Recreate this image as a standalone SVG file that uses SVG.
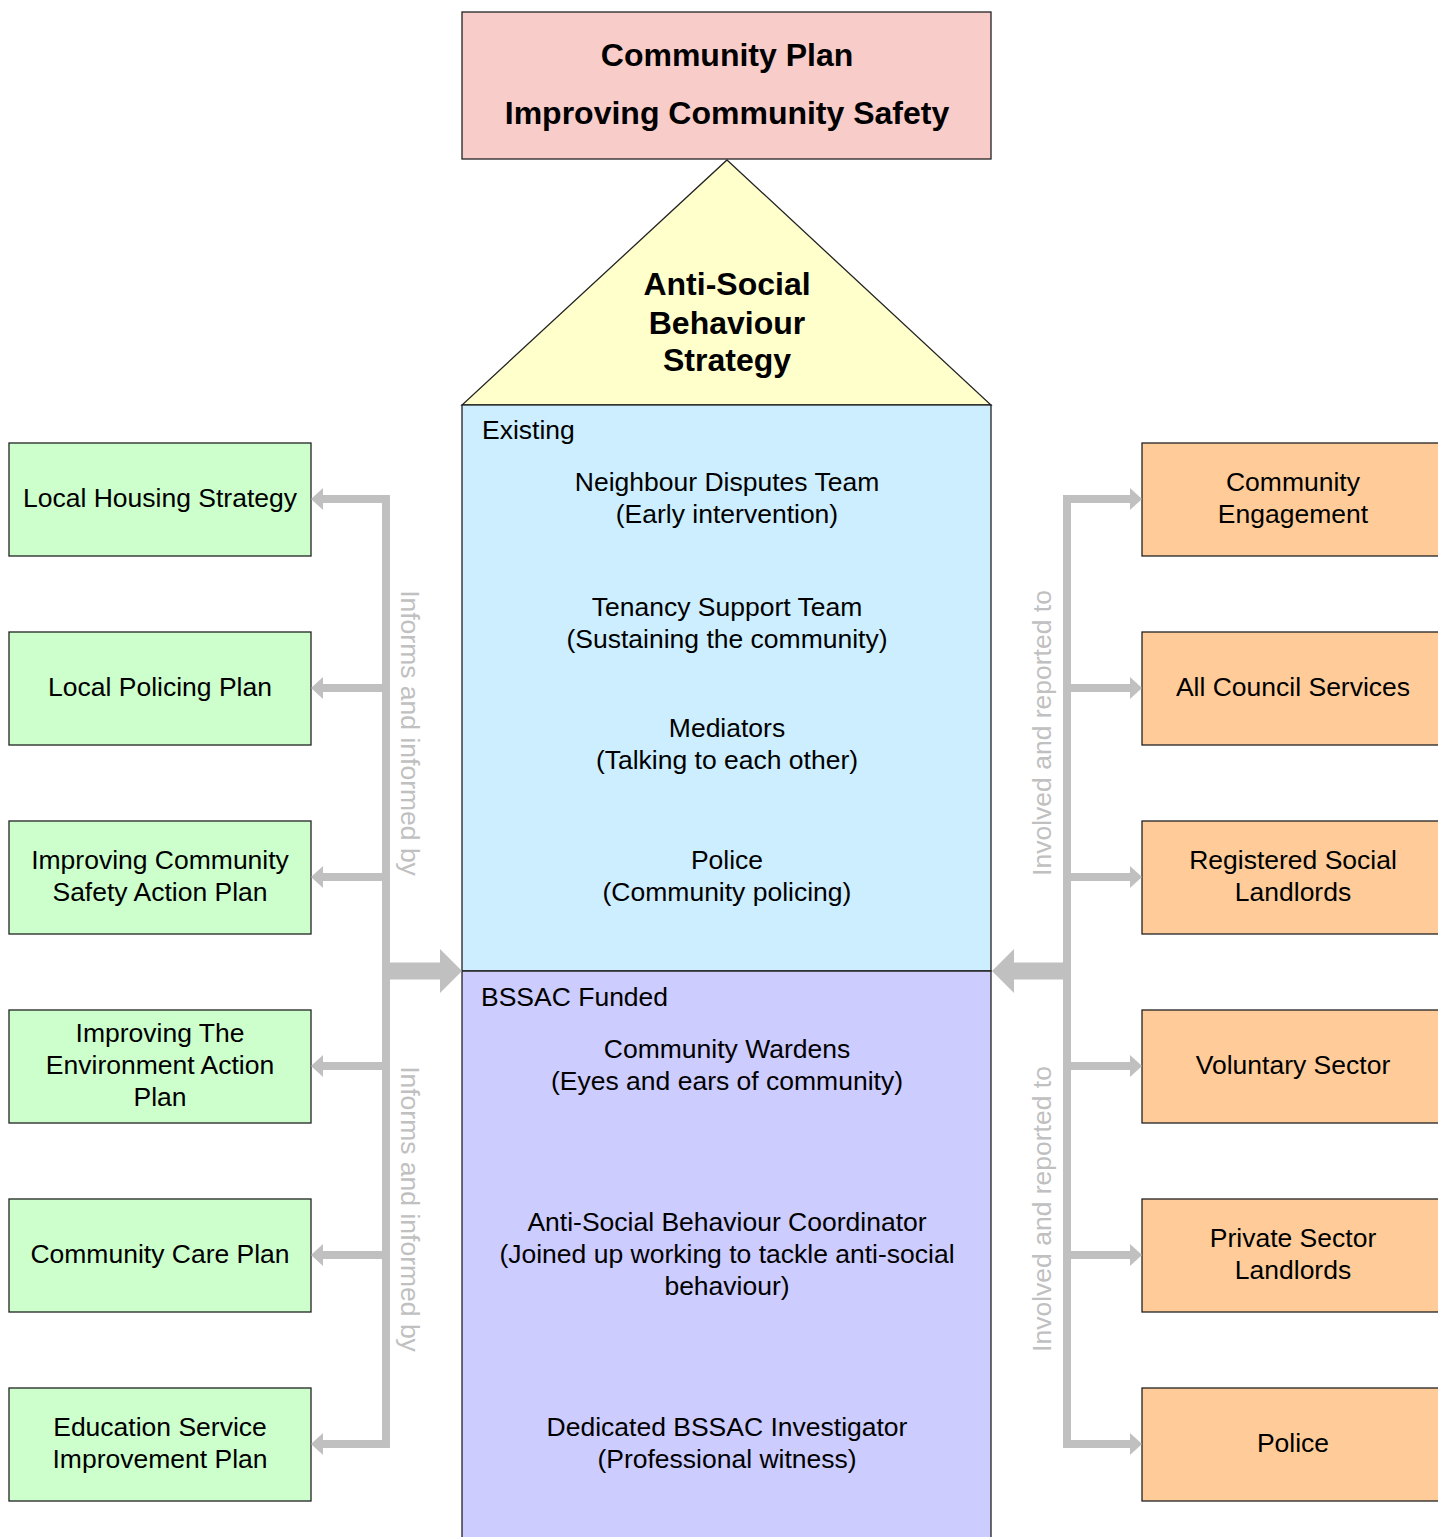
<svg xmlns="http://www.w3.org/2000/svg" width="1438" height="1537" viewBox="0 0 1438 1537">
<style>
text{font-family:"Liberation Sans",Arial,sans-serif;fill:#000;}
.t{font-size:26.5px;text-anchor:middle;}
.l{font-size:26.5px;}
.b{font-size:32px;font-weight:bold;text-anchor:middle;}
.rot{font-size:26.5px;text-anchor:middle;fill:#c0c0c0;}
.box{stroke:#222;stroke-width:1.3;}
.g{fill:#ccffcc;}
.o{fill:#ffcc99;}
.sh{fill:none;stroke:#c0c0c0;stroke-width:8;}
.big{fill:none;stroke:#c0c0c0;stroke-width:17;}
.hd{fill:#c0c0c0;}
</style>
<rect width="1438" height="1537" fill="#fff"/>
<g id="community-plan">
<rect class="box" x="462" y="12" width="529" height="147" fill="#f8ccc8"/>
<text class="b" x="727" y="66">Community Plan</text>
<text class="b" x="727" y="124">Improving Community Safety</text>
</g>
<g id="asb-strategy">
<polygon class="box" points="727,160 991,405 462,405" fill="#ffffcc"/>
<text class="b" x="727" y="295">Anti-Social</text>
<text class="b" x="727" y="334">Behaviour</text>
<text class="b" x="727" y="371">Strategy</text>
</g>
<g id="existing">
<rect class="box" x="462" y="405" width="529" height="566" fill="#cceeff"/>
<text class="l" x="482" y="439">Existing</text>
<text class="t" x="727" y="491">Neighbour Disputes Team</text>
<text class="t" x="727" y="523">(Early intervention)</text>
<text class="t" x="727" y="616">Tenancy Support Team</text>
<text class="t" x="727" y="648">(Sustaining the community)</text>
<text class="t" x="727" y="737">Mediators</text>
<text class="t" x="727" y="769">(Talking to each other)</text>
<text class="t" x="727" y="869">Police</text>
<text class="t" x="727" y="901">(Community policing)</text>
</g>
<g id="bssac-funded">
<path class="box" d="M462,1540 V971 H991 V1540" fill="#ccccff"/>
<text class="l" x="481" y="1006">BSSAC Funded</text>
<text class="t" x="727" y="1058">Community Wardens</text>
<text class="t" x="727" y="1090">(Eyes and ears of community)</text>
<text class="t" x="727" y="1231">Anti-Social Behaviour Coordinator</text>
<text class="t" x="727" y="1263">(Joined up working to tackle anti-social</text>
<text class="t" x="727" y="1295">behaviour)</text>
<text class="t" x="727" y="1436">Dedicated BSSAC Investigator</text>
<text class="t" x="727" y="1468">(Professional witness)</text>
</g>
<g id="local-housing-strategy">
<rect class="box g" x="9" y="443" width="302" height="113"/>
<text class="t" x="160" y="507">Local Housing Strategy</text>
</g>
<g id="local-policing-plan">
<rect class="box g" x="9" y="632" width="302" height="113"/>
<text class="t" x="160" y="696">Local Policing Plan</text>
</g>
<g id="ics-action-plan">
<rect class="box g" x="9" y="821" width="302" height="113"/>
<text class="t" x="160" y="869">Improving Community</text>
<text class="t" x="160" y="901">Safety Action Plan</text>
</g>
<g id="environment-action-plan">
<rect class="box g" x="9" y="1010" width="302" height="113"/>
<text class="t" x="160" y="1042">Improving The</text>
<text class="t" x="160" y="1074">Environment Action</text>
<text class="t" x="160" y="1106">Plan</text>
</g>
<g id="community-care-plan">
<rect class="box g" x="9" y="1199" width="302" height="113"/>
<text class="t" x="160" y="1263">Community Care Plan</text>
</g>
<g id="education-plan">
<rect class="box g" x="9" y="1388" width="302" height="113"/>
<text class="t" x="160" y="1436">Education Service</text>
<text class="t" x="160" y="1468">Improvement Plan</text>
</g>
<g id="community-engagement">
<rect class="box o" x="1142" y="443" width="300" height="113"/>
<text class="t" x="1293" y="491">Community</text>
<text class="t" x="1293" y="523">Engagement</text>
</g>
<g id="all-council-services">
<rect class="box o" x="1142" y="632" width="300" height="113"/>
<text class="t" x="1293" y="696">All Council Services</text>
</g>
<g id="rsl">
<rect class="box o" x="1142" y="821" width="300" height="113"/>
<text class="t" x="1293" y="869">Registered Social</text>
<text class="t" x="1293" y="901">Landlords</text>
</g>
<g id="voluntary-sector">
<rect class="box o" x="1142" y="1010" width="300" height="113"/>
<text class="t" x="1293" y="1074">Voluntary Sector</text>
</g>
<g id="private-landlords">
<rect class="box o" x="1142" y="1199" width="300" height="113"/>
<text class="t" x="1293" y="1247">Private Sector</text>
<text class="t" x="1293" y="1279">Landlords</text>
</g>
<g id="police-right">
<rect class="box o" x="1142" y="1388" width="300" height="113"/>
<text class="t" x="1293" y="1452">Police</text>
</g>
<g id="connectors">
<path class="sh" d="M322,499 H386 V1444 H322 M322,688 H386 M322,877 H386 M322,1066 H386 M322,1255 H386"/>
<polygon class="hd" points="311,499 323,488 323,510"/>
<polygon class="hd" points="311,688 323,677 323,699"/>
<polygon class="hd" points="311,877 323,866 323,888"/>
<polygon class="hd" points="311,1066 323,1055 323,1077"/>
<polygon class="hd" points="311,1255 323,1244 323,1266"/>
<polygon class="hd" points="311,1444 323,1433 323,1455"/>
<path class="big" d="M386,971 H441"/>
<polygon class="hd" points="462,971 440,949 440,993"/>
<path class="sh" d="M1131,499 H1067 V1444 H1131 M1131,688 H1067 M1131,877 H1067 M1131,1066 H1067 M1131,1255 H1067"/>
<polygon class="hd" points="1142,499 1130,488 1130,510"/>
<polygon class="hd" points="1142,688 1130,677 1130,699"/>
<polygon class="hd" points="1142,877 1130,866 1130,888"/>
<polygon class="hd" points="1142,1066 1130,1055 1130,1077"/>
<polygon class="hd" points="1142,1255 1130,1244 1130,1266"/>
<polygon class="hd" points="1142,1444 1130,1433 1130,1455"/>
<path class="big" d="M1067,971 H1012"/>
<polygon class="hd" points="992,971 1014,949 1014,993"/>
<text class="rot" transform="translate(401,733) rotate(90)">Informs and informed by</text>
<text class="rot" transform="translate(401,1209) rotate(90)">Informs and informed by</text>
<text class="rot" transform="translate(1051,733) rotate(-90)">Involved and reported to</text>
<text class="rot" transform="translate(1051,1209) rotate(-90)">Involved and reported to</text>
</g>
</svg>
